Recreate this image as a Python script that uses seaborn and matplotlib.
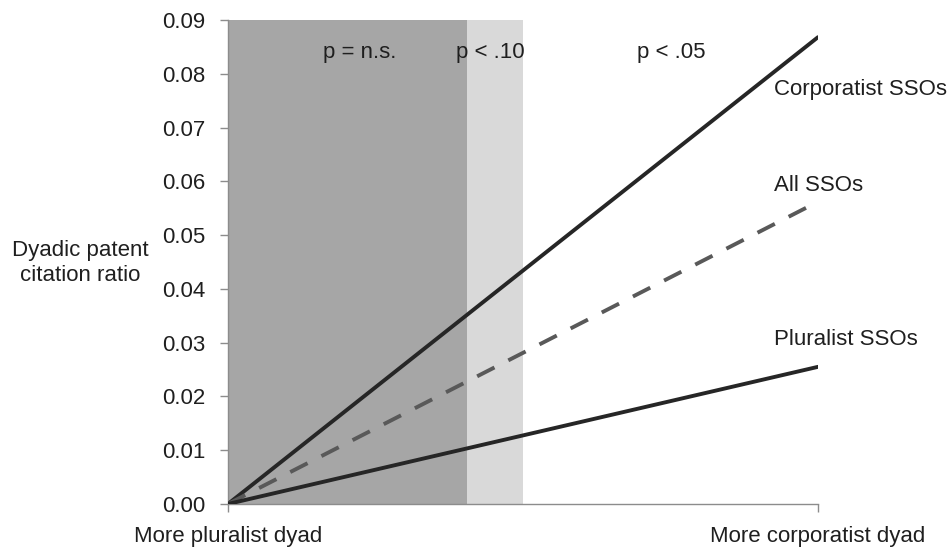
import matplotlib
matplotlib.use("Agg")
import matplotlib.pyplot as plt
import seaborn as sns
import pandas as pd

x_pos = [0, 1]
x_labels = ["More pluralist dyad", "More corporatist dyad"]
series_names = ["Corporatist SSOs", "All SSOs", "Pluralist SSOs"]
corporatist = [0.0, 0.0868]
all_ssos = [0.0, 0.0562]
pluralist = [0.0, 0.0255]
region_bounds = [0.0, 0.405, 0.5]
region_labels = ["p = n.s.", "p < .10", "p < .05"]
y_ticks = [0.00, 0.01, 0.02, 0.03, 0.04, 0.05, 0.06, 0.07, 0.08, 0.09]

sns.set_theme(style="white")
plt.rcParams['font.family'] = ['Liberation Sans', 'DejaVu Sans']

rows = []
for name, vals in zip(series_names, [corporatist, all_ssos, pluralist]):
    for xv, yv in zip(x_pos, vals):
        rows.append({"x": xv, "y": yv, "series": name})
df = pd.DataFrame(rows)

FS = 16
TXT = "#1f1f1f"

fig = plt.figure(figsize=(9.53, 5.52), dpi=100)
ax = fig.add_axes([0.2392, 0.0870, 0.6191, 0.8768])

ax.axvspan(region_bounds[0], region_bounds[1], color="#a6a6a6", lw=0, zorder=0)
ax.axvspan(region_bounds[1], region_bounds[2], color="#d9d9d9", lw=0, zorder=0)

sns.lineplot(data=df, x="x", y="y", hue="series", style="series",
             palette={"Corporatist SSOs": "#262626", "All SSOs": "#595959", "Pluralist SSOs": "#262626"},
             dashes={"Corporatist SSOs": "", "All SSOs": (5, 4), "Pluralist SSOs": ""},
             linewidth=2.8, legend=False, ax=ax, zorder=3)

ax.set_xlim(0, 1)
ax.set_ylim(0, 0.09)
ax.set_yticks(y_ticks)
ax.set_yticklabels([f"{v:.2f}" for v in y_ticks], fontsize=FS, color=TXT)
ax.set_xticks(x_pos)
ax.set_xticklabels(x_labels, fontsize=FS, color=TXT)
ax.set_xlabel("")
ax.set_ylabel("")

for s in ["top", "right"]:
    ax.spines[s].set_visible(False)
for s in ["left", "bottom"]:
    ax.spines[s].set_color("#8c8c8c")
    ax.spines[s].set_linewidth(1.0)
ax.tick_params(axis="both", which="both", direction="out", length=5.5, width=1.0,
               color="#8c8c8c", left=True, bottom=True)
ax.tick_params(axis="y", pad=11)
ax.tick_params(axis="x", pad=10.5)

ax.text(0.224, 0.084, region_labels[0], ha="center", va="center", fontsize=FS, color=TXT)
ax.text(0.444, 0.084, region_labels[1], ha="center", va="center", fontsize=FS, color=TXT)
ax.text(0.751, 0.084, region_labels[2], ha="center", va="center", fontsize=FS, color=TXT)

label_y = [0.077, 0.0593, 0.0305]
for name, ly in zip(series_names, label_y):
    ax.text(0.925, ly, name, ha="left", va="center", fontsize=FS, color=TXT, clip_on=False)

fig.text(80 / 953, 1 - 263 / 552, "Dyadic patent\ncitation ratio", ha="center", va="center",
         fontsize=FS, color=TXT, linespacing=1.3)

fig.savefig("out.png", dpi=100)
